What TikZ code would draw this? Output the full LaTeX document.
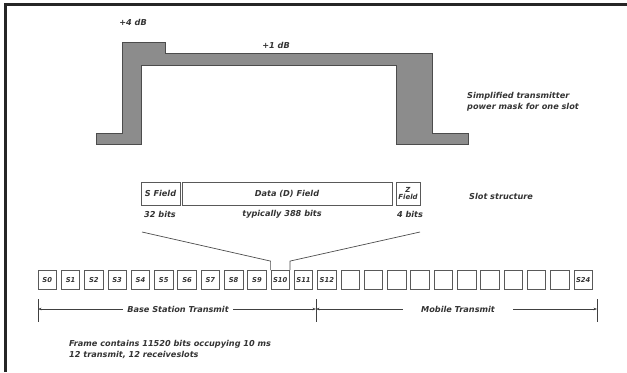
\documentclass[tikz,border=0pt]{standalone}
\usepackage{fontspec}
\setmainfont{DejaVu Sans}
\usetikzlibrary{calc,arrows.meta}

\begin{document}
\begin{tikzpicture}[x=1bp,y=-1bp,line join=miter,
  font=\bfseries\itshape\fontsize{8.2}{11}\selectfont,
  fld/.style={draw=black!65,line width=0.8pt,minimum height=23bp,inner sep=0pt,text=black!80},
  slotbox/.style={draw=black!65,line width=0.8pt,minimum width=18.5bp,minimum height=19bp,inner sep=0pt,
    text=black!80,font=\bfseries\itshape\fontsize{6.8}{7}\selectfont},
  lbl/.style={inner sep=1pt,text=black!80},
  dim/.style={black!75,line width=0.6pt,{Stealth[length=3.5pt]}-{Stealth[length=3.5pt]}}]
\useasboundingbox (0,0) rectangle (627,372);
% frame
\draw[line width=2.5bp,black!85] (5.5,372)--(5.5,4.5)--(627,4.5);
% power mask
\draw[fill=black!45,draw=black!70,line width=0.8pt] (96,144)--(96,133)--(122,133)--(122,42)--(165,42)--(165,53)--(432,53)
  --(432,133)--(468,133)--(468,144)--(396,144)--(396,65)--(141,65)--(141,144)--cycle;
\node[lbl] (p4) at (133,22) {+4 dB};
\node[lbl] (p1) at (276,45) {+1 dB};
\node[lbl,align=left,anchor=west] (mask) at (466,102) {Simplified transmitter\\power mask for one slot};
% slot structure
\node[fld,minimum width=39bp] (sf) at (160.5,193.5) {S Field};
\node[fld,minimum width=210bp] (df) at (287,193.5) {Data (D) Field};
\node[fld,minimum width=24bp,align=center,font=\bfseries\itshape\fontsize{7}{8}\selectfont] (zf) at (408,193.5) {Z\\Field};
\node[lbl] (sb) at (160,214) {32 bits};
\node[lbl] (db) at (282,214) {typically 388 bits};
\node[lbl] (zb) at (410,214) {4 bits};
\node[lbl,anchor=west] (ss) at (468,196) {Slot structure};
% frame of slots
\foreach \i in {0,...,23}{
  \ifnum\i<13 \def\t{S\i}\else\ifnum\i=23 \def\t{S24}\else\def\t{}\fi\fi
  \node[slotbox] (s\i) at ({47.25+23.3*\i},280) {\t};
}
\coordinate (fl) at (142,232);
\coordinate (fr) at (420,232);
\draw[black!70,line width=0.7pt] (fl) -- ($(s10.north west)+(0,-9)$) -- (s10.north west);
\draw[black!70,line width=0.7pt] (fr) -- ($(s10.north east)+(0,-9)$) -- (s10.north east);
% transmit ranges
\coordinate (t0) at (38,299);
\coordinate (t1) at (316,299);
\coordinate (t2) at (597,299);
\foreach \c in {t0,t1,t2}{\draw[black!75,line width=0.6pt] (\c) -- +(0,23);}
\draw[dim] ($(t0)+(0,10)$) -- ($(t1)+(0,10)$);
\draw[dim] ($(t1)+(0,10)$) -- ($(t2)+(0,10)$);
\node[lbl,fill=white,inner xsep=4pt] (bst) at (178,309) {Base Station Transmit};
\node[lbl,fill=white,inner xsep=18pt] (mt) at (458,309) {Mobile Transmit};
\node[lbl,anchor=north west,align=left] (note) at (68,339) {Frame contains 11520 bits occupying 10 ms\\12 transmit, 12 receiveslots};
\end{tikzpicture}
\end{document}
